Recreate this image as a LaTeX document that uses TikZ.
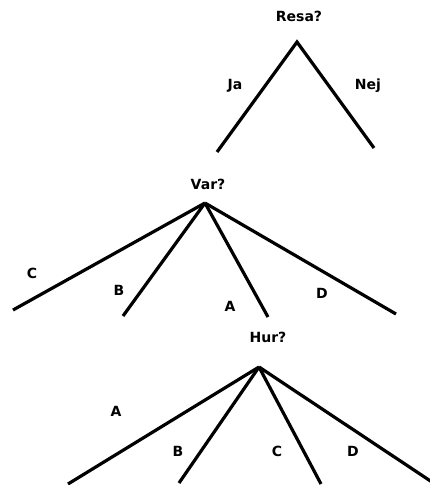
\documentclass[tikz,border=0pt]{standalone}
\usepackage{fontspec}
\setmainfont{DejaVu Sans}

\begin{document}
\begin{tikzpicture}[x=1pt, y=-1pt, font=\bfseries\fontsize{14}{14}\selectfont, branch/.style={line width=3.2pt}, lbl/.style={inner sep=0pt}]
\useasboundingbox (0,0) rectangle (429,485);
% first question
\node[lbl] (resa) at (299,16) {Resa?};
\coordinate (r0) at (297,42);
\coordinate (rja) at (217,152);
\coordinate (rnej) at (374,148);
\draw[branch] (rja) -- (r0) -- (rnej);
\node[lbl] (ja) at (235,86) {Ja};
\node[lbl] (nej) at (368,86) {Nej};
% second question
\node[lbl] (var) at (208,184) {Var?};
\coordinate (v0) at (205,203);
\coordinate (vc) at (13,310);
\coordinate (vb) at (123,316);
\coordinate (va) at (268,317);
\coordinate (vd) at (396,314);
\foreach \e in {vc,vb,va,vd}
  \draw[branch] (v0) -- (\e);
\node[lbl] (varc) at (32,273) {C};
\node[lbl] (varb) at (119,290) {B};
\node[lbl] (vara) at (230,306) {A};
\node[lbl] (vard) at (322,293) {D};
% third question
\node[lbl] (hur) at (268,337) {Hur?};
\coordinate (h0) at (259,367);
\coordinate (ha) at (68,484);
\coordinate (hb) at (179,483);
\coordinate (hc) at (321,484);
\coordinate (hd) at (432,482);
\foreach \e in {ha,hb,hc,hd}
  \draw[branch] (h0) -- (\e);
\node[lbl] (hura) at (116,411) {A};
\node[lbl] (hurb) at (178,451) {B};
\node[lbl] (hurc) at (277,451) {C};
\node[lbl] (hurd) at (353,451) {D};
\end{tikzpicture}
\end{document}
